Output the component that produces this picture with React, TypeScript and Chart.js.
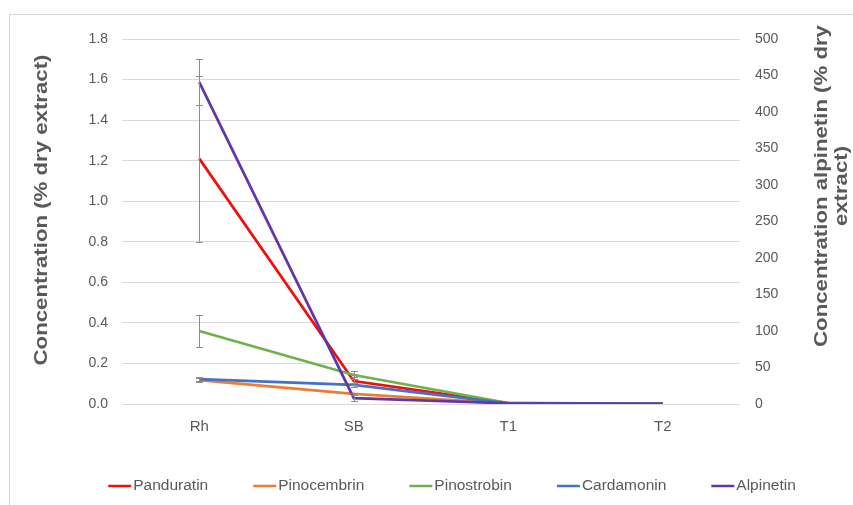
import React, { useEffect, useRef } from "react";
import { Chart, registerables } from "chart.js";

Chart.register(...registerables);

const categories = ["Rh", "SB", "T1", "T2"];
const seriesNames = ["Panduratin", "Pinocembrin", "Pinostrobin", "Cardamonin", "Alpinetin"];
const seriesColors = ["#f01010", "#ed7d31", "#6fb24a", "#4472c4", "#6236a8"];

const panduratin = [1.21, 0.113, 0.004, 0.001];
const pinocembrin = [0.118, 0.05, 0.002, 0.0005];
const pinostrobin = [0.36, 0.143, 0.005, 0.001];
const cardamonin = [0.123, 0.094, 0.003, 0.001];
const alpinetin = [441, 8, 1, 0.3];

const panduratinErr = [0.41, 0.02, 0, 0];
const pinocembrinErr = [0.01, 0.005, 0, 0];
const pinostrobinErr = [0.08, 0.02, 0, 0];
const cardamoninErr = [0.01, 0.01, 0, 0];
const alpinetinErr = [31, 4, 0, 0];

const leftTitle = "Concentration (% dry extract)";
const rightTitle = ["Concentration alpinetin (% dry", "extract)"];

const FONT = "'Liberation Sans', Arial, Helvetica, sans-serif";
const TEXT = "#595959";
const GRID = "#d9d9d9";

const chartLayout = {
  left: 122,
  right: 740,
  top: 39,
  bottom: 404,
};

const decorPlugin = {
  id: "decor",
  beforeDraw(chart: any) {
    const ctx = chart.ctx;
    ctx.save();
    ctx.fillStyle = "#ffffff";
    ctx.fillRect(0, 0, chart.width, chart.height);
    ctx.strokeStyle = "#d9d9d9";
    ctx.lineWidth = 1;
    ctx.strokeRect(9.5, 14.5, chart.width + 20, chart.height + 20);
    ctx.restore();
  },
  afterDatasetsDraw(chart: any) {
    const ctx = chart.ctx;
    const errs = [panduratinErr, pinocembrinErr, pinostrobinErr, cardamoninErr, alpinetinErr];
    ctx.save();
    ctx.strokeStyle = "#8c8c8c";
    ctx.lineWidth = 1;
    chart.data.datasets.forEach((ds: any, di: number) => {
      const meta = chart.getDatasetMeta(di);
      const yScale = chart.scales[ds.yAxisID];
      const err = errs[di];
      meta.data.forEach((pt: any, i: number) => {
        const e = err[i];
        if (!e) return;
        const v = ds.data[i];
        const yTop = yScale.getPixelForValue(v + e);
        const yBot = yScale.getPixelForValue(Math.max(v - e, 0));
        const x = Math.round(pt.x) + 0.5;
        ctx.beginPath();
        ctx.moveTo(x, yTop);
        ctx.lineTo(x, yBot);
        ctx.moveTo(x - 3.5, Math.round(yTop) + 0.5);
        ctx.lineTo(x + 3.5, Math.round(yTop) + 0.5);
        ctx.moveTo(x - 3.5, Math.round(yBot) + 0.5);
        ctx.lineTo(x + 3.5, Math.round(yBot) + 0.5);
        ctx.stroke();
      });
    });
    ctx.restore();
  },
  afterDraw(chart: any) {
    const ctx = chart.ctx;
    ctx.save();
    // axis titles
    ctx.fillStyle = TEXT;
    ctx.font = `bold 18.5px ${FONT}`;
    ctx.textAlign = "center";
    ctx.textBaseline = "middle";
    ctx.save();
    ctx.translate(42, 210);
    ctx.rotate(-Math.PI / 2);
    ctx.scale(1.2, 1);
    ctx.fillText(leftTitle, 0, 0);
    ctx.restore();
    ctx.save();
    ctx.translate(822, 186);
    ctx.rotate(-Math.PI / 2);
    ctx.scale(1.2, 1);
    ctx.fillText(rightTitle[0], 0, 0);
    ctx.fillText(rightTitle[1], 0, 20);
    ctx.restore();

    // legend
    ctx.font = `15.5px ${FONT}`;
    ctx.textAlign = "left";
    const lineLen = 23;
    const gap = 2;
    const itemGap = 45;
    const widths = seriesNames.map((n) => ctx.measureText(n).width);
    const total = widths.reduce((a, w) => a + lineLen + gap + w, 0) + itemGap * (seriesNames.length - 1);
    let x = 452 - total / 2;
    const y = 486;
    seriesNames.forEach((n, i) => {
      ctx.strokeStyle = seriesColors[i];
      ctx.lineWidth = 2.5;
      ctx.beginPath();
      ctx.moveTo(x, y);
      ctx.lineTo(x + lineLen, y);
      ctx.stroke();
      ctx.fillStyle = TEXT;
      ctx.fillText(n, x + lineLen + gap, y);
      x += lineLen + gap + widths[i] + itemGap;
    });
    ctx.restore();
  },
};

export default function App() {
  const ref = useRef<HTMLCanvasElement | null>(null);

  useEffect(() => {
    document.body.style.margin = "0";
    const canvas = ref.current;
    if (!canvas) return;
    const values = [panduratin, pinocembrin, pinostrobin, cardamonin, alpinetin];
    const datasets = seriesNames.map((name, i) => ({
      label: name,
      data: values[i],
      borderColor: seriesColors[i],
      backgroundColor: seriesColors[i],
      borderWidth: 2.75,
      pointRadius: 0,
      tension: 0,
      yAxisID: i === 4 ? "y2" : "y",
      order: 5 - i,
    }));

    const chart = new Chart(canvas, {
      type: "line",
      data: { labels: categories, datasets },
      plugins: [decorPlugin],
      options: {
        responsive: false,
        animation: false,
        layout: { padding: { left: 0, right: 0, top: chartLayout.top, bottom: 0 } },
        plugins: {
          legend: { display: false },
          tooltip: { enabled: false },
        },
        scales: {
          x: {
            type: "category",
            offset: true,
            grid: { display: false, drawTicks: false },
            border: { display: false },
            ticks: {
              color: TEXT,
              font: { family: FONT, size: 15 },
              padding: 14,
            },
            afterFit: (s: any) => {
              s.height = 505 - chartLayout.bottom;
            },
          },
          y: {
            position: "left",
            min: 0,
            max: 1.8,
            grid: { color: GRID, drawTicks: false, lineWidth: 1 },
            border: { display: false },
            ticks: {
              stepSize: 0.2,
              color: TEXT,
              font: { family: FONT, size: 14 },
              padding: 14,
              callback: (v: any) => Number(v).toFixed(1),
            },
            afterFit: (s: any) => {
              s.width = chartLayout.left;
            },
          },
          y2: {
            position: "right",
            min: 0,
            max: 500,
            grid: { display: false, drawTicks: false },
            border: { display: false },
            ticks: {
              stepSize: 50,
              color: TEXT,
              font: { family: FONT, size: 14 },
              padding: 15,
            },
            afterFit: (s: any) => {
              s.width = 853 - chartLayout.right;
            },
          },
        },
      },
    } as any);
    return () => chart.destroy();
  }, []);

  return (
    <div style={{ width: 853, height: 505 }}>
      <canvas ref={ref} width={853} height={505} style={{ display: "block" }} />
    </div>
  );
}
